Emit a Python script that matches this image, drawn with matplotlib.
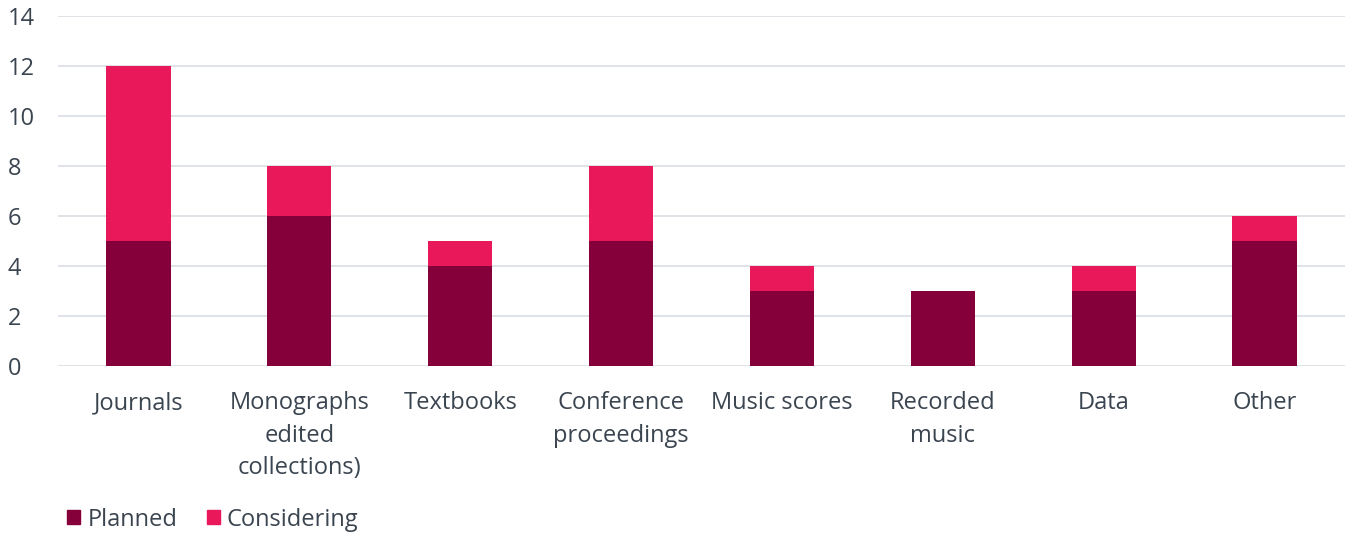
import matplotlib.pyplot as plt
import numpy as np
from matplotlib.patches import Patch

categories = ["Journals", "Monographs\nedited\ncollections)", "Textbooks", "Conference\nproceedings",
              "Music scores", "Recorded\nmusic", "Data", "Other"]
planned = [5, 6, 4, 5, 3, 3, 3, 5]
considering = [7, 2, 1, 3, 1, 0, 1, 1]
yticks = [0, 2, 4, 6, 8, 10, 12, 14]

c_planned = "#85003A"
c_consider = "#E8185A"
txt = "#3B4550"
grid = "#D9DEE3"

plt.rcParams['font.family'] = ['Open Sans', 'DejaVu Sans']
fs = 17

fig = plt.figure(figsize=(13.52, 5.33), dpi=100)
ax = fig.add_axes([58/1352, 167/533, (1345-58)/1352, 350/533])

x = np.arange(len(categories))
ax.bar(x, planned, width=0.4, color=c_planned, zorder=3, label="Planned")
ax.bar(x, considering, width=0.4, bottom=planned, color=c_consider, zorder=3, label="Considering")

ax.set_xlim(-0.5, len(categories) - 0.5)
ax.set_ylim(0, 14)
ax.set_yticks(yticks)
ax.set_yticklabels([str(v) for v in yticks])
ax.yaxis.grid(True, color=grid, linewidth=1.2, zorder=0)
for s in ax.spines.values():
    s.set_visible(False)
ax.tick_params(axis='both', length=0, colors=txt, labelsize=fs)
ax.tick_params(axis='x', pad=18)
ax.tick_params(axis='y', pad=36)
for lab in ax.get_yticklabels():
    lab.set_horizontalalignment('left')
ax.set_xticks(x)
ax.set_xticklabels(categories, linespacing=1.48)

handles = [Patch(color=c_planned, label="Planned"), Patch(color=c_consider, label="Considering")]
fig.legend(handles=handles, loc='lower left', bbox_to_anchor=(58/1352, -0.015), ncol=2, frameon=False,
           fontsize=fs, labelcolor=txt, handlelength=0.55, handleheight=0.55, handletextpad=0.3,
           columnspacing=1.25, borderaxespad=0.0)

fig.savefig("out.png", dpi=100)
